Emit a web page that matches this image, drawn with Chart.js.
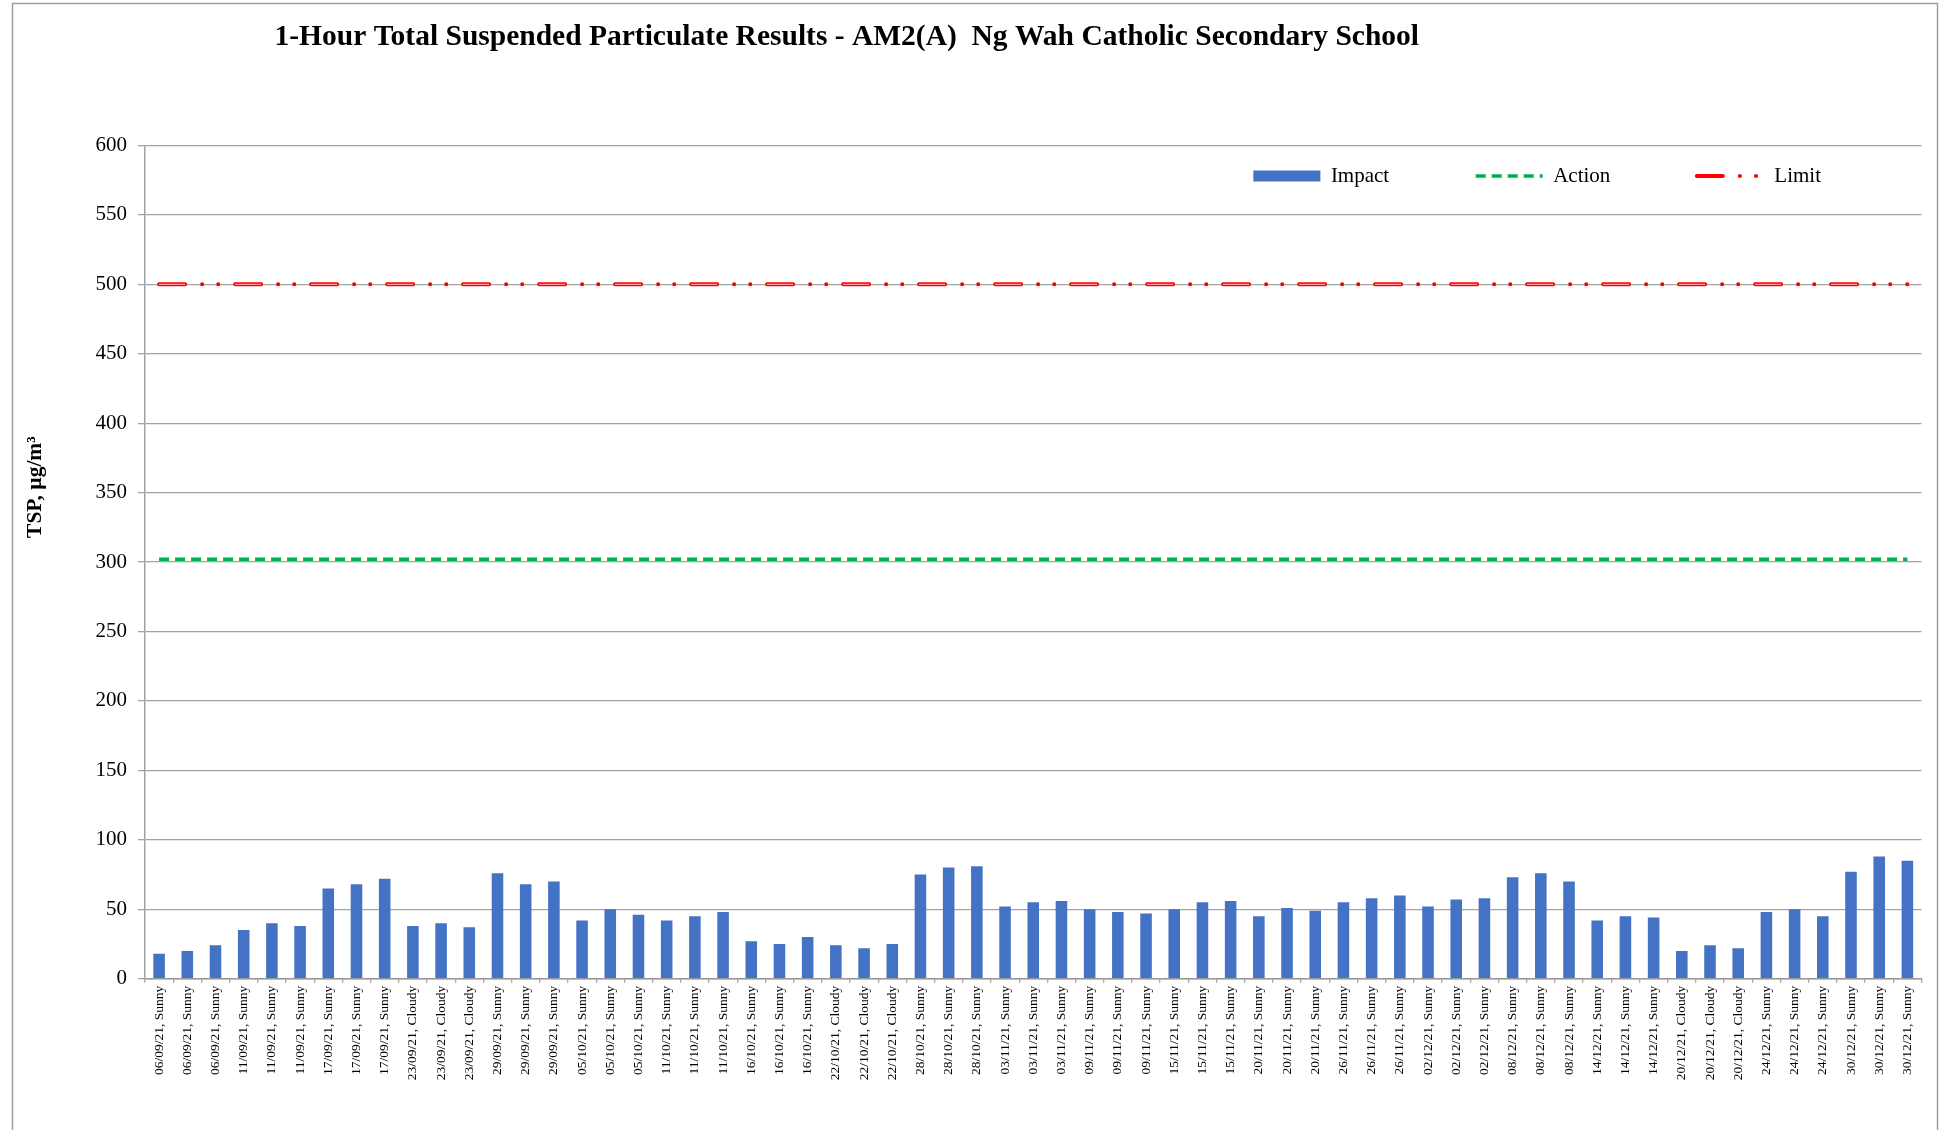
<!DOCTYPE html>
<html>
<head>
<meta charset="utf-8">
<title>1-Hour TSP Results - AM2(A)</title>
<script src="https://cdn.jsdelivr.net/npm/chart.js"></script>
<style>
    html, body { margin: 0; padding: 0; background: #fff; overflow: hidden; }
    #wrap { position: relative; width: 1942px; height: 1130px; }
</style>
</head>
<body>
<div id="wrap"><canvas id="tspChart"></canvas></div>
<script>
const labels = [
    '06/09/21, Sunny', '06/09/21, Sunny', '06/09/21, Sunny',
    '11/09/21, Sunny', '11/09/21, Sunny', '11/09/21, Sunny',
    '17/09/21, Sunny', '17/09/21, Sunny', '17/09/21, Sunny',
    '23/09/21, Cloudy', '23/09/21, Cloudy', '23/09/21, Cloudy',
    '29/09/21, Sunny', '29/09/21, Sunny', '29/09/21, Sunny',
    '05/10/21, Sunny', '05/10/21, Sunny', '05/10/21, Sunny',
    '11/10/21, Sunny', '11/10/21, Sunny', '11/10/21, Sunny',
    '16/10/21, Sunny', '16/10/21, Sunny', '16/10/21, Sunny',
    '22/10/21, Cloudy', '22/10/21, Cloudy', '22/10/21, Cloudy',
    '28/10/21, Sunny', '28/10/21, Sunny', '28/10/21, Sunny',
    '03/11/21, Sunny', '03/11/21, Sunny', '03/11/21, Sunny',
    '09/11/21, Sunny', '09/11/21, Sunny', '09/11/21, Sunny',
    '15/11/21, Sunny', '15/11/21, Sunny', '15/11/21, Sunny',
    '20/11/21, Sunny', '20/11/21, Sunny', '20/11/21, Sunny',
    '26/11/21, Sunny', '26/11/21, Sunny', '26/11/21, Sunny',
    '02/12/21, Sunny', '02/12/21, Sunny', '02/12/21, Sunny',
    '08/12/21, Sunny', '08/12/21, Sunny', '08/12/21, Sunny',
    '14/12/21, Sunny', '14/12/21, Sunny', '14/12/21, Sunny',
    '20/12/21, Cloudy', '20/12/21, Cloudy', '20/12/21, Cloudy',
    '24/12/21, Sunny', '24/12/21, Sunny', '24/12/21, Sunny',
    '30/12/21, Sunny', '30/12/21, Sunny', '30/12/21, Sunny',
];

// measured 1-hour TSP, ug/m3
const impact = [
    18, 20, 24, 35, 40, 38, 65, 68, 72, 38, 40, 37, 76, 68, 70, 42, 50, 46, 42, 45, 48,
    27, 25, 30, 24, 22, 25, 75, 80, 81, 52, 55, 56, 50, 48, 47, 50, 55, 56, 45, 51, 49,
    55, 58, 60, 52, 57, 58, 73, 76, 70, 42, 45, 44, 20, 24, 22, 48, 50, 45, 77, 88, 85,
];

// action / limit levels for every sampling
const action = [
    302, 302, 302, 302, 302, 302, 302, 302, 302, 302, 302, 302, 302, 302, 302, 302, 302, 302, 302, 302, 302,
    302, 302, 302, 302, 302, 302, 302, 302, 302, 302, 302, 302, 302, 302, 302, 302, 302, 302, 302, 302, 302,
    302, 302, 302, 302, 302, 302, 302, 302, 302, 302, 302, 302, 302, 302, 302, 302, 302, 302, 302, 302, 302,
];
const limit = [
    500, 500, 500, 500, 500, 500, 500, 500, 500, 500, 500, 500, 500, 500, 500, 500, 500, 500, 500, 500, 500,
    500, 500, 500, 500, 500, 500, 500, 500, 500, 500, 500, 500, 500, 500, 500, 500, 500, 500, 500, 500, 500,
    500, 500, 500, 500, 500, 500, 500, 500, 500, 500, 500, 500, 500, 500, 500, 500, 500, 500, 500, 500, 500,
];

const yTicks = { min: 0, max: 600, step: 50 };

const serif = "'Liberation Serif', 'Times New Roman', serif";
const gridGrey = '#a3a3a3';

Chart.defaults.font.family = serif;
Chart.defaults.color = '#000';

// outer frame, shifted title/legend and the rotated axis caption
const frameAndCaption = {
    id: 'frameAndCaption',
    afterLayout(chart) {
        const t = chart.titleBlock;
        t.left -= 120;
        t.right -= 120;
        // legend floats inside the plot, top right
        const lg = chart.legend;
        const pad = chart.options.plugins.legend.labels.padding;
        lg.top = chart.chartArea.top + 20 - pad;
        lg.bottom = lg.top + pad + 50;
        lg.height = lg.bottom - lg.top;
        lg.right = chart.chartArea.right - 14;
    },
    beforeDraw(chart) {
        const ctx = chart.ctx;
        ctx.save();
        ctx.strokeStyle = '#a0a0a0';
        ctx.lineWidth = 1.5;
        ctx.strokeRect(12.5, 3.5, chart.width - 17, chart.height + 40);
        ctx.restore();
    },
    afterDraw(chart) {
        const ctx = chart.ctx;
        const area = chart.chartArea;
        ctx.save();
        ctx.translate(35, area.top + (area.bottom - area.top) * 0.41);
        ctx.rotate(-Math.PI / 2);
        ctx.font = 'bold 21.5px ' + serif;
        ctx.fillStyle = '#000';
        ctx.textAlign = 'center';
        ctx.textBaseline = 'middle';
        ctx.fillText('TSP, µg/m³', 0, 0);
        ctx.restore();
    },
};

const data = {
    labels: labels,
    datasets: [{
        type: 'bar',
        label: 'Impact',
        data: impact,
        backgroundColor: '#4472C4',
        borderWidth: 0,
        barPercentage: 0.41,
        categoryPercentage: 1,
    }, {
        type: 'line',
        label: 'Action',
        data: action,
        borderColor: '#00B050',
        backgroundColor: '#00B050',
        borderWidth: 3.5,
        borderDash: [10, 6],
        pointRadius: 0,
        fill: false,
    }, {
        type: 'line',
        label: 'Limit',
        data: limit,
        borderColor: '#FF0000',
        backgroundColor: '#FF0000',
        borderWidth: 4,
        borderDash: [26, 17, 0.1, 16, 0.1, 16.8],
        borderCapStyle: 'round',
        pointRadius: 0,
        fill: false,
    }, {
        // light core inside the long limit dashes
        type: 'line',
        label: 'Limit core',
        data: limit,
        borderColor: '#ff9a9a',
        borderWidth: 1.3,
        borderDash: [26, 50],
        pointRadius: 0,
        fill: false,
        order: -1,
    }],
};

const config = {
    data: data,
    options: {
        responsive: true,
        maintainAspectRatio: false,
        animation: false,
        layout: { padding: { top: 4, left: 12, right: 20.5, bottom: 0 } },
        plugins: {
            title: {
                display: true,
                text: '1-Hour Total Suspended Particulate Results - AM2(A)  Ng Wah Catholic Secondary School',
                color: '#000',
                font: { family: serif, size: 29.5, weight: 'bold' },
                padding: { top: 15.3, bottom: 89.8 },
            },
            legend: {
                position: 'top',
                align: 'end',
                maxHeight: 1,
                labels: {
                    usePointStyle: true,
                    pointStyleWidth: 67,
                    boxHeight: 11,
                    padding: 86.5,
                    color: '#000',
                    font: { family: serif, size: 21 },
                    filter: (item) => item.text !== 'Limit core',
                    generateLabels(chart) {
                        const items = Chart.defaults.plugins.legend.labels.generateLabels(chart);
                        items.forEach((it) => {
                            const ds = chart.data.datasets[it.datasetIndex];
                            if (ds.type === 'line') {
                                it.pointStyle = 'line';
                                it.strokeStyle = ds.borderColor;
                                it.lineWidth = ds.borderWidth;
                                it.lineDash = ds.borderDash;
                                it.lineCap = ds.borderCapStyle || 'butt';
                            } else {
                                it.pointStyle = 'rect';
                                it.lineWidth = 0;
                            }
                        });
                        return items;
                    },
                },
            },
            tooltip: { enabled: false },
        },
        scales: {
            x: {
                type: 'category',
                offset: true,
                afterFit: (scale) => { scale.height = 151.3; },
                grid: { drawOnChartArea: false, drawTicks: true, tickLength: 4, offset: true, color: gridGrey, lineWidth: 1.3 },
                border: { color: '#999', width: 1.5 },
                ticks: {
                    autoSkip: false,
                    minRotation: 90,
                    maxRotation: 90,
                    padding: 3,
                    color: '#000',
                    font: { family: serif, size: 13.5 },
                },
            },
            y: {
                min: yTicks.min,
                max: yTicks.max,
                afterFit: (scale) => { scale.width = 133; },
                grid: { color: gridGrey, lineWidth: 1.3, tickLength: 7 },
                border: { color: gridGrey, width: 1.5 },
                ticks: {
                    stepSize: yTicks.step,
                    padding: 11,
                    color: '#000',
                    font: { family: serif, size: 21 },
                },
            },
        },
    },
    plugins: [frameAndCaption],
};

const chartEle = document.getElementById('tspChart').getContext('2d');
const tspChart = new Chart(chartEle, config);
</script>
</body>
</html>
